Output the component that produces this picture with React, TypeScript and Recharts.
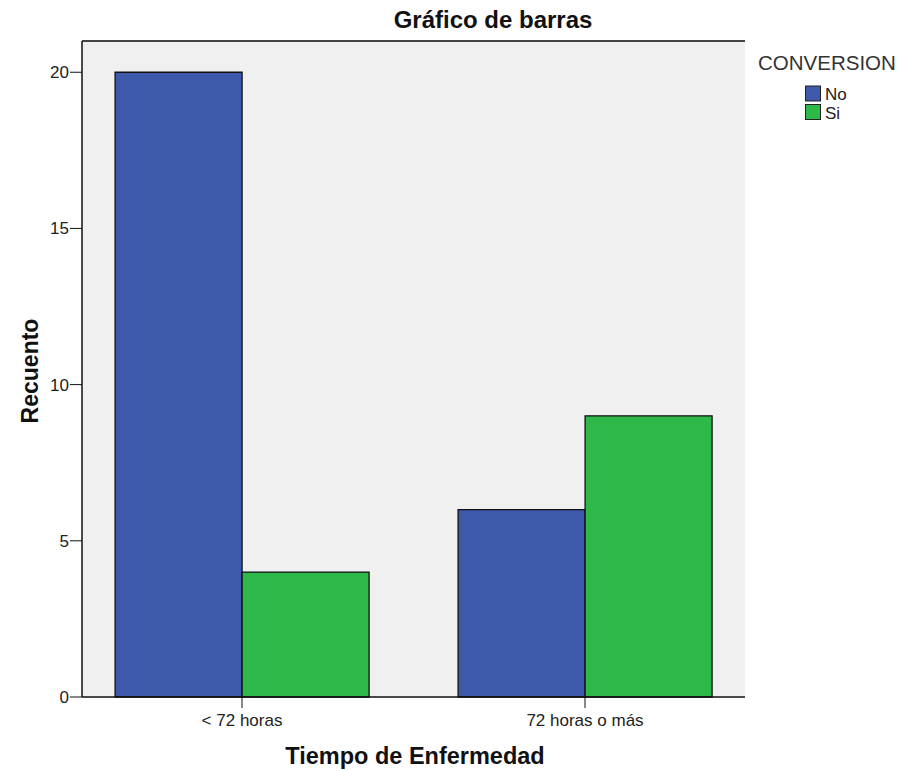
import React from "react";
import { BarChart, Bar, XAxis, YAxis, CartesianGrid, ReferenceLine } from "recharts";

const categories = ["< 72 horas", "72 horas o más"];
const noValues = [20, 6];
const siValues = [4, 9];
const yTicks = [0, 5, 10, 15, 20];
const yMax = 21;
const seriesNames = ["No", "Si"];

const data = categories.map((c, i) => ({ cat: c, No: noValues[i], Si: siValues[i] }));

const FONT = "'Liberation Sans', Arial, sans-serif";
const BLUE = "#3E58AC";
const GREEN = "#2EB84A";
const COLORS = [BLUE, GREEN];

export default function App() {
  return (
    <div style={{ position: "absolute", left: 0, top: 0, width: 899, height: 771, background: "#fff" }}>
      <BarChart
        width={899}
        height={771}
        data={data}
        margin={{ top: 41, right: 154, bottom: 44, left: 22 }}
        barGap={0}
        barCategoryGap="13%"
      >
        <CartesianGrid fill="#F0F0F0" horizontal={false} vertical={false} />
        <XAxis
          dataKey="cat"
          height={30}
          padding={{ left: -11.5, right: -11.5 }}
          tickSize={11}
          tickMargin={6}
          axisLine={{ stroke: "#111", strokeWidth: 1.5 }}
          tickLine={{ stroke: "#111" }}
          tick={{ fill: "#222", fontSize: 17, fontFamily: FONT }}
        />
        <YAxis
          width={60}
          domain={[0, yMax]}
          ticks={yTicks}
          interval={0}
          tickSize={12}
          tickMargin={1}
          axisLine={{ stroke: "#111", strokeWidth: 1.5 }}
          tickLine={{ stroke: "#111" }}
          tick={{ fill: "#222", fontSize: 17, fontFamily: FONT }}
        />
        <YAxis
          yAxisId="right"
          orientation="right"
          width={0}
          domain={[0, yMax]}
          tick={false}
          tickLine={false}
          axisLine={{ stroke: "#444", strokeWidth: 2 }}
        />
        <ReferenceLine y={yMax} stroke="#444" strokeWidth={2} ifOverflow="extendDomain" />
        <Bar dataKey="No" fill={BLUE} stroke="#111" strokeWidth={1.3} isAnimationActive={false} />
        <Bar dataKey="Si" fill={GREEN} stroke="#111" strokeWidth={1.3} isAnimationActive={false} />
      </BarChart>
      <svg
        width={899}
        height={771}
        style={{ position: "absolute", left: 0, top: 0, pointerEvents: "none" }}
      >
        <text x={493} y={28} textAnchor="middle" fontFamily={FONT} fontWeight="bold" fontSize={24} fill="#111">
          Gráfico de barras
        </text>
        <text x={415} y={764} textAnchor="middle" fontFamily={FONT} fontWeight="bold" fontSize={23.5} fill="#111">
          Tiempo de Enfermedad
        </text>
        <text
          x={0}
          y={0}
          transform="translate(38,371) rotate(-90)"
          textAnchor="middle"
          fontFamily={FONT}
          fontWeight="bold"
          fontSize={23}
          fill="#111"
        >
          Recuento
        </text>
        <text x={758} y={70} fontFamily={FONT} fontSize={20.5} fill="#333">
          CONVERSION
        </text>
        {seriesNames.map((name, i) => (
          <g key={name}>
            <rect
              x={805.5}
              y={86 + i * 18.5}
              width={15}
              height={15}
              fill={COLORS[i]}
              stroke="#222"
              strokeWidth={1}
            />
            <text x={825} y={100 + i * 18.5} fontFamily={FONT} fontSize={17} fill="#222">
              {name}
            </text>
          </g>
        ))}
      </svg>
    </div>
  );
}
